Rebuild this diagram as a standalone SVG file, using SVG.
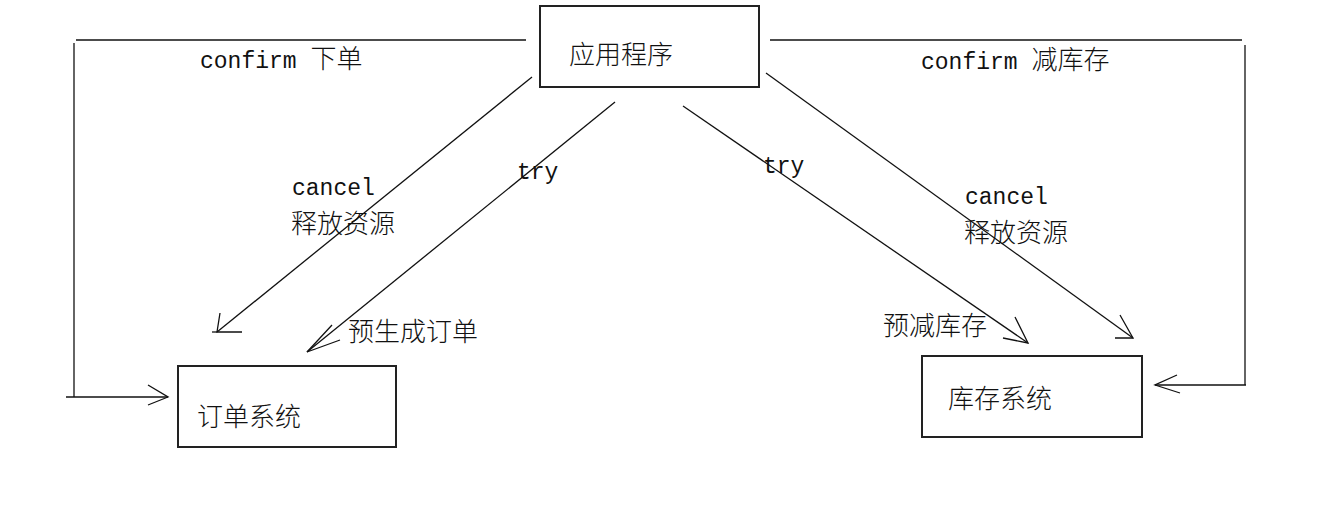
<svg xmlns="http://www.w3.org/2000/svg" width="1321" height="508" viewBox="0 0 1321 508">
<style>
.ln{fill:none;stroke:#111;stroke-width:1.3}
.bx{fill:#fff;stroke:#222;stroke-width:2}
.t{font-family:"Liberation Mono","Noto Sans CJK SC",monospace;font-size:23px;fill:#111}
.c{font-family:"Noto Sans CJK SC","Liberation Sans",sans-serif;font-size:26px;font-weight:300;fill:#111}
</style>
<rect width="1321" height="508" fill="#fff"/>
<g id="connectors">
  <polyline class="ln" points="526,40 76,40"/>
  <polyline class="ln" points="74,43 74,397"/>
  <polyline class="ln" points="66,397 168,397"/>
  <polyline class="ln" points="148,385 168,397 148,405"/>
  <polyline class="ln" points="770,40 1242,40"/>
  <polyline class="ln" points="1245,45 1245,385"/>
  <polyline class="ln" points="1246,385 1155,385"/>
  <polyline class="ln" points="1177,375 1155,385 1180,393"/>
  <line class="ln" x1="532" y1="77" x2="217" y2="332"/>
  <polyline class="ln" points="220,313 217,332 242,332"/>
  <line class="ln" x1="212" y1="332" x2="217" y2="332"/>
  <line class="ln" x1="615" y1="102" x2="307" y2="352"/>
  <polyline class="ln" points="332,325 307,352 340,340"/>
  <line class="ln" x1="683" y1="106" x2="1028" y2="343"/>
  <polyline class="ln" points="1015,317 1028,343 1003,338"/>
  <line class="ln" x1="766" y1="73" x2="1133" y2="338"/>
  <polyline class="ln" points="1120,315 1133,338 1115,338"/>
</g>
<g id="labels">
  <text class="t" x="200" y="68">confirm <tspan class="c">下单</tspan></text>
  <text class="t" x="921" y="69">confirm <tspan class="c">减库存</tspan></text>
  <text class="t" x="292" y="195">cancel</text>
  <text class="c" x="291" y="233">释放资源</text>
  <text class="t" x="517" y="179">try</text>
  <text class="c" x="348" y="341">预生成订单</text>
  <text class="t" x="763" y="173">try</text>
  <text class="t" x="965" y="204">cancel</text>
  <text class="c" x="964" y="242">释放资源</text>
  <text class="c" x="883" y="335">预减库存</text>
</g>
<g id="node-app">
  <rect class="bx" x="540" y="6" width="219" height="81"/>
  <text class="c" x="569" y="64">应用程序</text>
</g>
<g id="node-order">
  <rect class="bx" x="178" y="366" width="218" height="81"/>
  <text class="c" x="197" y="426">订单系统</text>
</g>
<g id="node-stock">
  <rect class="bx" x="922" y="356" width="220" height="81"/>
  <text class="c" x="948" y="408">库存系统</text>
</g>
</svg>
